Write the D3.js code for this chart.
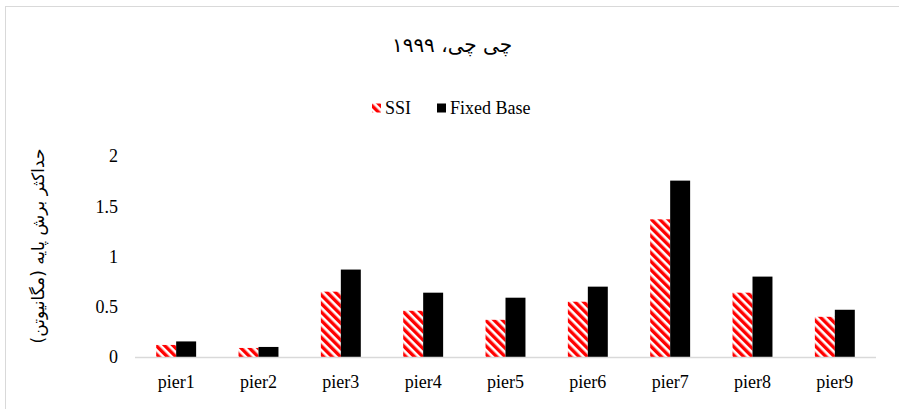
<!DOCTYPE html>
<html>
<head>
<meta charset="utf-8">
<script src="https://cdn.jsdelivr.net/npm/d3@7"></script>
<style>
  body { margin: 0; background: #fff; }
  text { font-family: "Liberation Serif", "DejaVu Serif", serif; fill: #000; }
  text.fa { font-family: "DejaVu Sans", "Liberation Serif", serif; }
</style>
</head>
<body>
<div id="chart"></div>
<script>
var categories = ["pier1", "pier2", "pier3", "pier4", "pier5", "pier6", "pier7", "pier8", "pier9"];
var ssiValues = [0.12, 0.09, 0.65, 0.46, 0.37, 0.55, 1.37, 0.64, 0.40];
var fixedValues = [0.155, 0.10, 0.87, 0.64, 0.59, 0.70, 1.755, 0.80, 0.47];
var seriesNames = ["SSI", "Fixed Base"];
var yTicks = [0, 0.5, 1, 1.5, 2];
var title = "چی چی، ۱۹۹۹";
var yLabel = "حداکثر برش پایه (مگانیوتن)";

var width = 899, height = 409,
    margin = {top: 156, right: 23, bottom: 52, left: 135};

var svg = d3.select("#chart").append("svg")
    .attr("width", width)
    .attr("height", height);

// diagonal red stripes for SSI
var defs = svg.append("defs");
var pat = defs.append("pattern")
    .attr("id", "stripes")
    .attr("patternUnits", "userSpaceOnUse")
    .attr("width", 6)
    .attr("height", 6)
    .attr("patternTransform", "rotate(-45)");
pat.append("rect").attr("width", 6).attr("height", 6).attr("fill", "#fff");
pat.append("rect").attr("width", 3.4).attr("height", 6).attr("fill", "#ff0000");

// chart frame
svg.append("rect")
    .attr("x", 5.5).attr("y", 6.5)
    .attr("width", width).attr("height", height)
    .attr("fill", "none")
    .attr("stroke", "#d9d9d9");

var x = d3.scaleBand()
    .domain(categories)
    .range([margin.left, width - margin.right])
    .paddingInner(0.515)
    .paddingOuter(0.2575);

var x1 = d3.scaleBand()
    .domain(seriesNames)
    .range([0, x.bandwidth()]);

var y = d3.scaleLinear()
    .domain([0, 2])
    .range([height - margin.bottom, margin.top]);

var fills = {"SSI": "url(#stripes)", "Fixed Base": "#000"};

var rows = categories.map(function(c, i) {
    return {cat: c, vals: [
        {name: "SSI", v: ssiValues[i]},
        {name: "Fixed Base", v: fixedValues[i]}
    ]};
});

var groups = svg.append("g").selectAll("g")
    .data(rows)
    .enter().append("g")
    .attr("transform", function(d) { return "translate(" + x(d.cat) + ",0)"; });

groups.selectAll("rect")
    .data(function(d) { return d.vals; })
    .enter().append("rect")
    .attr("x", function(d) { return x1(d.name); })
    .attr("y", function(d) { return y(d.v); })
    .attr("width", x1.bandwidth())
    .attr("height", function(d) { return y(0) - y(d.v); })
    .attr("fill", function(d) { return fills[d.name]; });

// x axis line
svg.append("line")
    .attr("x1", margin.left).attr("x2", width - margin.right)
    .attr("y1", y(0) + 0.5).attr("y2", y(0) + 0.5)
    .attr("stroke", "#d9d9d9")
    .attr("stroke-width", 1.5);

// x labels
svg.append("g").selectAll("text")
    .data(categories)
    .enter().append("text")
    .attr("x", function(d) { return x(d) + x.bandwidth() / 2; })
    .attr("y", y(0) + 25)
    .attr("dy", ".35em")
    .attr("text-anchor", "middle")
    .style("font-size", "18px")
    .text(function(d) { return d; });

// y tick labels
svg.append("g").selectAll("text")
    .data(yTicks)
    .enter().append("text")
    .attr("x", 118)
    .attr("y", function(d) { return y(d); })
    .attr("dy", ".35em")
    .attr("text-anchor", "end")
    .style("font-size", "18px")
    .text(function(d) { return d; });

// y axis title
svg.append("text")
    .attr("class", "fa")
    .attr("transform", "translate(38," + 246 + ") rotate(-90)")
    .attr("dy", ".35em")
    .attr("text-anchor", "middle")
    .attr("direction", "rtl")
    .style("font-size", "17px")
    .text(yLabel);

// title
svg.append("text")
    .attr("class", "fa")
    .attr("x", 452)
    .attr("y", 45)
    .attr("dy", ".35em")
    .attr("text-anchor", "middle")
    .attr("direction", "rtl")
    .style("font-size", "20px")
    .text(title);

// legend
var legendPos = [372, 437];
var legend = svg.append("g").selectAll("g")
    .data(seriesNames)
    .enter().append("g")
    .attr("transform", function(d, i) { return "translate(" + legendPos[i] + ",108)"; });

legend.append("rect")
    .attr("x", 0).attr("y", -4.5)
    .attr("width", 9).attr("height", 9)
    .attr("fill", function(d) { return fills[d]; });

legend.append("text")
    .attr("x", 13)
    .attr("dy", ".35em")
    .style("font-size", "18px")
    .text(function(d) { return d; });
</script>
</body>
</html>
